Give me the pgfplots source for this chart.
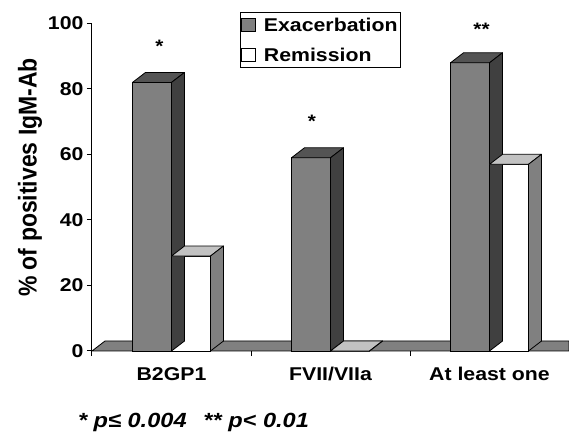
\documentclass[border=0pt]{standalone}
\usepackage{pgfplots}
\pgfplotsset{compat=1.18}
\usepackage{pgfplotstable}
\usepackage{fontspec}
\setmainfont{Liberation Sans}[FakeStretch=1.15]
\newfontfamily\ylabfont{Liberation Sans}

\definecolor{exfront}{gray}{0.50}
\definecolor{extop}{gray}{0.33}
\definecolor{exside}{gray}{0.25}
\definecolor{retop}{gray}{0.76}
\definecolor{reside}{gray}{0.50}

\pgfplotstableread{
x v star sx sy
1 82 *  -12   36.2
2 59 *  -18.5 36.3
3 88 ** -8    33.5
}\exac
\pgfplotstableread{
x v
1 29
2 0
3 57
}\remi

\pgfdeclareplotmark{void}{}

% top and side faces of a bar; #1,#2 left/right edge of the front face, #3,#4 colours
\newcommand\barfaces[4]{%
  \pgfmathsetmacro\lb{#1+13}%
  \pgfmathsetmacro\rb{#2+13}%
  \pgfmathsetmacro\hb{-\vy*3.275}%
  \pgfmathsetmacro\hs{10-\vy*3.275}%
  \filldraw[fill=#3,draw=black,line width=0.8pt,line join=round]
    (#1pt,0pt) -- (#2pt,0pt) -- (\rb pt,10pt) -- (\lb pt,10pt) -- cycle;
  \filldraw[fill=#4,draw=black,line width=0.8pt,line join=round]
    (#2pt,0pt) -- (\rb pt,10pt) -- (\rb pt,\hs pt) -- (#2pt,\hb pt) -- cycle;
}
\pgfplotsset{
  faces/.style n args={4}{forget plot, scatter, only marks, mark=void,
    visualization depends on={rawy \as \vy},
    scatter/@pre marker code/.code={\barfaces{#1}{#2}{#3}{#4}},
    scatter/@post marker code/.code={}},
}

\begin{document}
\begin{tikzpicture}
\path[use as bounding box] (-92pt,-87pt) rectangle (477pt,351pt);
\begin{axis}[
  at={(0pt,0pt)}, anchor=south west,
  x=159pt, y=3.275pt,
  xmin=0.5, xmax=3.5, ymin=0, ymax=100,
  clip=false,
  axis x line*=bottom, axis y line*=left,
  axis line style={line width=1pt},
  tick align=outside,
  major tick length=5pt,
  tick style={line width=1pt, black},
  xtick={0.5,1.5,2.5,3.5},
  xticklabels={},
  extra x ticks={1,2,3},
  extra x tick labels={B2GP1, FVII/VIIa, At least one},
  extra x tick style={tick style={draw=none}},
  ytick={0,20,...,100},
  ticklabel style={font=\bfseries\fontsize{18.5}{18.5}\selectfont},
  /pgf/number format/assume math mode=true,
  xticklabel style={yshift=-8pt},
  ylabel={\% of positives IgM-Ab},
  ylabel style={at={(axis description cs:-0.13,0.53)}, anchor=center,
    font=\ylabfont\bfseries\fontsize{23}{23}\selectfont, yscale=1.12},
  legend style={at={(axis description cs:0.31,1.034)}, anchor=north west,
    draw=black, line width=0.8pt, inner xsep=1pt, inner ysep=3pt, row sep=11pt,
    font=\bfseries\fontsize{18.5}{20}\selectfont,
    /tikz/every odd column/.append style={column sep=6pt}},
  legend cell align=left,
]
% floor
\filldraw[fill=exfront, draw=black, line width=0.8pt]
  (axis cs:0.5,0) -- ([xshift=13pt,yshift=10pt]axis cs:0.5,0)
  -- ([yshift=10pt]axis cs:3.5,0) -- (axis cs:3.5,0) -- cycle;

\addplot[ybar, bar width=39pt, bar shift=-19.5pt, fill=exfront, draw=black, line width=0.8pt,
  nodes near coords, point meta=explicit symbolic,
  visualization depends on={\thisrow{sx} \as \sx},
  visualization depends on={\thisrow{sy} \as \sy},
  every node near coord/.append style={anchor=center, yshift=\sy pt, xshift=\sx pt,
    font=\bfseries\fontsize{18}{18}\selectfont},
  legend image code/.code={\draw[fill=exfront,draw=black,line width=0.7pt] (0pt,-6.5pt) rectangle (14pt,6.5pt);}]
  table[x=x, y=v, meta=star]{\exac};
\addlegendentry{Exacerbation}
\addplot[faces={-39}{0}{extop}{exside}] table[x=x, y=v]{\exac};

\addplot[ybar, bar width=39pt, bar shift=19.5pt, fill=white, draw=black, line width=0.8pt,
  legend image code/.code={\draw[fill=white,draw=black,line width=0.7pt] (0pt,-6.5pt) rectangle (14pt,6.5pt);}]
  table[x=x, y=v]{\remi};
\addlegendentry{Remission}
\addplot[faces={0}{39}{retop}{reside}] table[x=x, y=v]{\remi};

\node[anchor=base west, font=\bfseries\itshape\fontsize{20.5}{20.5}\selectfont]
  at (axis description cs:-0.0367,-0.235) {* p≤ 0.004\hspace{0.5em} ** p< 0.01};
\end{axis}
\end{tikzpicture}
\end{document}
